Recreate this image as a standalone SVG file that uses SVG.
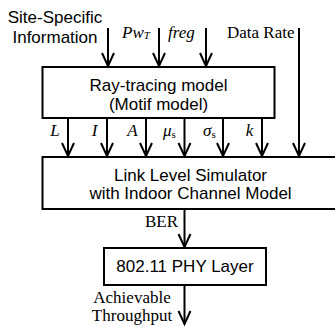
<svg xmlns="http://www.w3.org/2000/svg" width="335" height="326" viewBox="0 0 335 326">
<style>
.box{fill:#fff;stroke:#000;stroke-width:2}
.ln{fill:none;stroke:#000;stroke-width:2;marker-end:url(#ah)}
.sans{font-family:"Liberation Sans",Arial,sans-serif;font-size:17px;fill:#000}
.ser{font-family:"Liberation Serif","Times New Roman",serif;font-size:17px;fill:#000}
.it{font-style:italic}
</style>
<defs>
<marker id="ah" markerUnits="userSpaceOnUse" viewBox="-15 -8 17 16" refX="0" refY="0" markerWidth="17" markerHeight="16" orient="auto">
<path d="M-13,-6 L0,0 L-13,6" fill="none" stroke="#000" stroke-width="2"/>
</marker>
</defs>
<g id="connectors">
<line class="ln" x1="108" y1="28" x2="108" y2="66"/>
<line class="ln" x1="159" y1="28" x2="159" y2="66"/>
<line class="ln" x1="206" y1="28" x2="206" y2="66"/>
<line class="ln" x1="299" y1="28" x2="299" y2="156"/>
<line class="ln" x1="68" y1="118" x2="68" y2="156"/>
<line class="ln" x1="107" y1="118" x2="107" y2="156"/>
<line class="ln" x1="146" y1="118" x2="146" y2="156"/>
<line class="ln" x1="184.5" y1="118" x2="184.5" y2="156"/>
<line class="ln" x1="223" y1="118" x2="223" y2="156"/>
<line class="ln" x1="262" y1="118" x2="262" y2="156"/>
<line class="ln" x1="184.5" y1="209" x2="184.5" y2="247"/>
<line class="ln" x1="184.5" y1="285" x2="184.5" y2="324"/>
</g>
<g id="labels">
<text class="sans" x="55" y="23" text-anchor="middle">Site-Specific</text>
<text class="sans" x="55" y="43" text-anchor="middle">Information</text>
<text class="ser it" x="122" y="38">Pw<tspan font-size="11" dy="1">T</tspan></text>
<text class="ser it" x="168" y="38">freg</text>
<text class="ser" x="227" y="38">Data Rate</text>
<text class="ser it" x="55" y="136" text-anchor="middle">L</text>
<text class="ser it" x="94.5" y="136" text-anchor="middle">I</text>
<text class="ser it" x="132.5" y="136" text-anchor="middle">A</text>
<text class="ser it" x="163" y="136">μ<tspan font-size="11" font-style="normal" dy="2">s</tspan></text>
<text class="ser it" x="203" y="136">σ<tspan font-size="11" font-style="normal" dy="2">s</tspan></text>
<text class="ser it" x="249.5" y="136" text-anchor="middle">k</text>
<text class="ser" x="161.5" y="227" text-anchor="middle">BER</text>
<text class="ser" x="132" y="303" text-anchor="middle">Achievable</text>
<text class="ser" x="132" y="321" text-anchor="middle">Throughput</text>
</g>
<g id="raytracing">
<rect class="box" x="42.5" y="67" width="232" height="51"/>
<text class="sans" x="158.5" y="91" text-anchor="middle">Ray-tracing model</text>
<text class="sans" x="158.5" y="109.5" text-anchor="middle">(Motif model)</text>
</g>
<g id="lls">
<rect class="box" x="42.5" y="157" width="296" height="52"/>
<text class="sans" x="190.5" y="180.5" text-anchor="middle">Link Level Simulator</text>
<text class="sans" x="190.5" y="198.5" text-anchor="middle">with Indoor Channel Model</text>
</g>
<g id="phy">
<rect class="box" x="104" y="248" width="162" height="37"/>
<text class="sans" x="185" y="272" text-anchor="middle">802.11 PHY Layer</text>
</g>
</svg>
